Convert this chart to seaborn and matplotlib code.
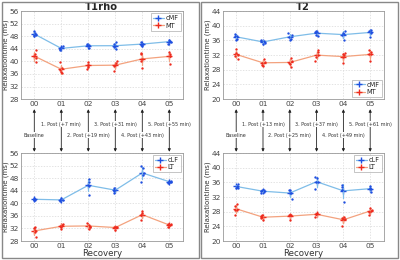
import numpy as np
import pandas as pd
import matplotlib
matplotlib.use("Agg")
import matplotlib.pyplot as plt
from matplotlib.patches import Rectangle
import seaborn as sns

sns.set_style("white")
plt.rcParams['font.family'] = ['DejaVu Sans']

timepoints = ["00", "01", "02", "03", "04", "05"]
labels_left = ["Baseline", "1. Post (+7 min)", "2. Post (+19 min)", "3. Post (+31 min)", "4. Post (+43 min)", "5. Post (+55 min)"]
labels_right = ["Baseline", "1. Post (+13 min)", "2. Post (+25 min)", "3. Post (+37 min)", "4. Post (+49 min)", "5. Post (+61 min)"]

# individual measurements per timepoint (ms)
t1rho_cMF = [[49.6, 49.2, 48.4, 48.0, 48.5], [44.8, 44.0, 43.6, 43.8, 44.5], [45.4, 44.8, 44.2, 45.2, 45.3],
             [46.2, 45.4, 43.8, 44.6, 45.0], [46.2, 45.6, 45.0, 45.2, 45.6], [46.6, 46.2, 45.6, 46.8, 46.3]]
t1rho_MT = [[43.6, 42.4, 41.0, 39.8, 41.7], [39.7, 37.8, 36.2, 36.6, 37.2], [39.8, 39.0, 37.6, 38.2, 38.9],
            [40.0, 39.4, 37.0, 38.6, 39.0], [42.8, 42.3, 38.0, 40.2, 40.7], [43.0, 42.4, 39.2, 41.6, 41.8]]
t2_cMF = [[37.8, 37.3, 36.5, 36.2, 37.2], [35.8, 35.3, 35.0, 36.0, 35.9], [38.0, 37.6, 36.0, 36.5, 36.9],
          [38.6, 38.2, 37.2, 37.6, 38.4], [38.7, 38.0, 36.2, 37.4, 37.7], [38.9, 38.4, 37.0, 38.0, 38.7]]
t2_MT = [[33.6, 32.6, 31.0, 31.7, 32.1], [31.0, 30.2, 29.0, 29.4, 29.9], [31.2, 30.5, 28.8, 29.6, 29.9],
         [33.4, 32.8, 30.3, 31.6, 31.9], [32.7, 32.2, 29.8, 31.4, 31.9], [33.4, 32.8, 30.3, 32.2, 32.3]]
t1rho_cLF = [[41.8, 41.4, 41.0, 41.2, 41.1], [41.6, 41.0, 40.6, 41.2, 41.1], [47.8, 46.8, 42.8, 45.8, 45.6],
             [45.0, 44.4, 43.2, 44.4, 44.0], [51.8, 51.2, 46.8, 49.6, 49.1], [47.2, 46.8, 46.6, 47.0, 46.9]]
t1rho_LT = [[32.4, 32.0, 29.2, 31.0, 31.4], [33.4, 33.0, 31.8, 32.6, 32.7], [33.8, 33.2, 31.8, 32.6, 32.6],
            [32.6, 32.4, 31.4, 32.6, 32.5], [37.6, 37.0, 34.6, 36.4, 36.4], [33.4, 33.2, 32.4, 33.2, 33.3]]
t2_cLF = [[35.6, 35.0, 34.6, 34.5, 34.8], [34.0, 33.6, 33.2, 33.4, 33.8], [34.0, 33.8, 31.6, 33.0, 33.1],
          [37.6, 37.2, 34.2, 36.0, 36.0], [35.4, 34.8, 30.6, 33.8, 33.9], [35.0, 34.6, 33.4, 34.2, 34.3]]
t2_LT = [[30.0, 29.6, 27.2, 28.6, 28.6], [27.0, 26.6, 25.8, 26.4, 26.7], [27.2, 27.0, 25.8, 27.0, 27.0],
         [27.6, 27.4, 26.6, 27.4, 27.5], [26.6, 26.2, 24.2, 26.0, 26.0], [29.0, 28.6, 27.2, 28.0, 28.2]]

BLUE_LINE = "#7fbde8"
BLUE_PT = "#1f4fe0"
RED_LINE = "#f3a27e"
RED_PT = "#ee2a1e"

def to_df(vals):
    rows = []
    for i, group in enumerate(vals):
        for v in group:
            rows.append((i, v))
    return pd.DataFrame(rows, columns=["t", "v"])

fig = plt.figure(figsize=(4, 2.6), dpi=100)

# column frames
for x0 in (0.004, 0.502):
    fig.add_artist(Rectangle((x0, 0.006), 0.494, 0.988, transform=fig.transFigure,
                             fill=False, edgecolor="#888888", linewidth=1.0))

W = 0.405
H = 0.338
ax_tl = fig.add_axes([0.052, 0.619, W, H])
ax_bl = fig.add_axes([0.052, 0.073, W, H])
ax_tr = fig.add_axes([0.557, 0.619, W - 0.003, H])
ax_br = fig.add_axes([0.557, 0.073, W - 0.003, H])

np.random.seed(3)

def draw(ax, s1, s2, n1, n2, ylim, loc, xlabel=None, title=None):
    for vals, name, lc, pc in ((s1, n1, BLUE_LINE, BLUE_PT), (s2, n2, RED_LINE, RED_PT)):
        df = to_df(vals)
        sns.stripplot(data=df, x="t", y="v", native_scale=True, jitter=0.07, color=pc,
                      size=1.7, ax=ax, zorder=3)
        sns.lineplot(data=df, x="t", y="v", errorbar="sd", err_style="bars", color=lc,
                     marker="+", markersize=5, markeredgewidth=1.0, mec=pc, linewidth=0.9,
                     err_kws=dict(elinewidth=0.9, capsize=0), label=name, ax=ax, zorder=2)
    ax.set_xlim(-0.5, 5.5)
    ax.set_ylim(*ylim)
    ax.set_yticks(np.arange(ylim[0], ylim[1] + 1, 4))
    ax.set_xticks(range(len(timepoints)))
    ax.set_xticklabels(timepoints)
    ax.tick_params(axis="both", labelsize=5.3, colors="#444444", length=2, direction="in", pad=1.5)
    ax.grid(True, color="#d8d8d8", linestyle=(0, (2, 2)), linewidth=0.5)
    for sp in ax.spines.values():
        sp.set_color("#999999")
        sp.set_linewidth(0.6)
    ax.set_ylabel("Relaxationtime (ms)", fontsize=5.0, color="#333333", labelpad=0.5)
    ax.set_xlabel(xlabel if xlabel else "", fontsize=6.2, color="#333333", labelpad=0)
    if title:
        ax.set_title(title, fontsize=7.2, fontweight="bold", pad=0.8)
    leg = ax.legend(loc=loc, fontsize=4.8, frameon=True, handlelength=1.6, borderpad=0.3,
                    labelspacing=0.2, handletextpad=0.3, borderaxespad=0.3, fancybox=False)
    leg.get_frame().set_edgecolor("#999999")
    leg.get_frame().set_linewidth(0.5)

draw(ax_tl, t1rho_cMF, t1rho_MT, "cMF", "MT", (28, 56), "upper right", title="T1rho")
draw(ax_bl, t1rho_cLF, t1rho_LT, "cLF", "LT", (28, 56), "upper right", xlabel="Recovery")
draw(ax_tr, t2_cMF, t2_MT, "cMF", "MT", (20, 44), "lower right", title="T2")
draw(ax_br, t2_cLF, t2_LT, "cLF", "LT", (20, 44), "upper right", xlabel="Recovery")

def arrows(ax, labels):
    tr = ax.get_xaxis_transform()
    for i, lab in enumerate(labels):
        ax.annotate("", xy=(i, -0.115), xytext=(i, -0.60), xycoords=tr, textcoords=tr,
                    arrowprops=dict(arrowstyle="<|-|>", color="#222222", lw=0.6,
                                    mutation_scale=4, shrinkA=0, shrinkB=0),
                    annotation_clip=False)
        yy = -0.41 if i % 2 == 0 else -0.285
        ax.text(i, yy, lab, transform=tr, ha="center", va="center", fontsize=3.5,
                color="#333333", bbox=dict(facecolor="white", edgecolor="none", pad=0.2),
                clip_on=False, zorder=5)

arrows(ax_tl, labels_left)
arrows(ax_tr, labels_right)

fig.savefig("out.png", dpi=100)
